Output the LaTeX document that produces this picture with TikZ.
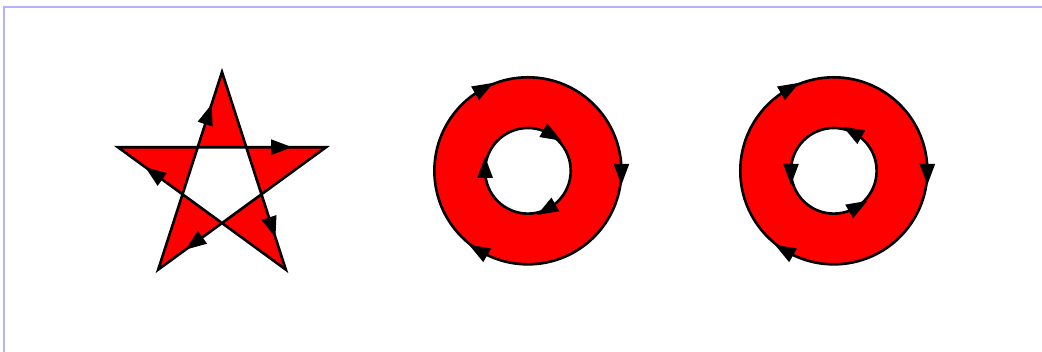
\documentclass[tikz,border=0pt]{standalone}
\usepackage{tikz}

\tikzset{
  fillpath/.style={fill=red,draw=black,line width=1.311pt,even odd rule},
  marker/.style={fill=black},
  frame/.style={draw=blue!30,line width=1.1pt}
}

\begin{document}
\begin{tikzpicture}[x=0.437pt,y=-0.437pt]
  \useasboundingbox (-4,-7.44) rectangle (1188.2,394.2);
  \draw[frame] (1,1) rectangle (1199,399);

  % star
  \draw[fillpath] (250,75) -- (323,301) -- (131,161) -- (369,161) -- (177,301) -- cycle;
  \foreach \px/\py/\a in {306.21/249/72, 175.16/193.2/216, 314.26/161/0,
                          221.16/268.8/144, 233.21/126.98/288}
    \fill[marker,shift={(\px,\py)},rotate=-\a] (16,0) -- (-8,9) -- (-8,-9) -- cycle;

  % ring, both paths clockwise
  \draw[fillpath] (600,188) circle (107) (600,188) circle (49);
  \foreach \a in {0,120,240}
    \fill[marker,shift={(600,188)},rotate=-\a,shift={(107,0)},rotate=-90] (16,0) -- (-8,9) -- (-8,-9) -- cycle;
  \foreach \a in {60,180,300}
    \fill[marker,shift={(600,188)},rotate=-\a,shift={(49,0)},rotate=-90] (16,0) -- (-8,9) -- (-8,-9) -- cycle;

  % ring, inner path counterclockwise
  \draw[fillpath] (950,188) circle (107) (950,188) circle (49);
  \foreach \a in {0,120,240}
    \fill[marker,shift={(950,188)},rotate=-\a,shift={(107,0)},rotate=-90] (16,0) -- (-8,9) -- (-8,-9) -- cycle;
  \foreach \a in {60,180,300}
    \fill[marker,shift={(950,188)},rotate=-\a,shift={(49,0)},rotate=90] (16,0) -- (-8,9) -- (-8,-9) -- cycle;
\end{tikzpicture}
\end{document}
